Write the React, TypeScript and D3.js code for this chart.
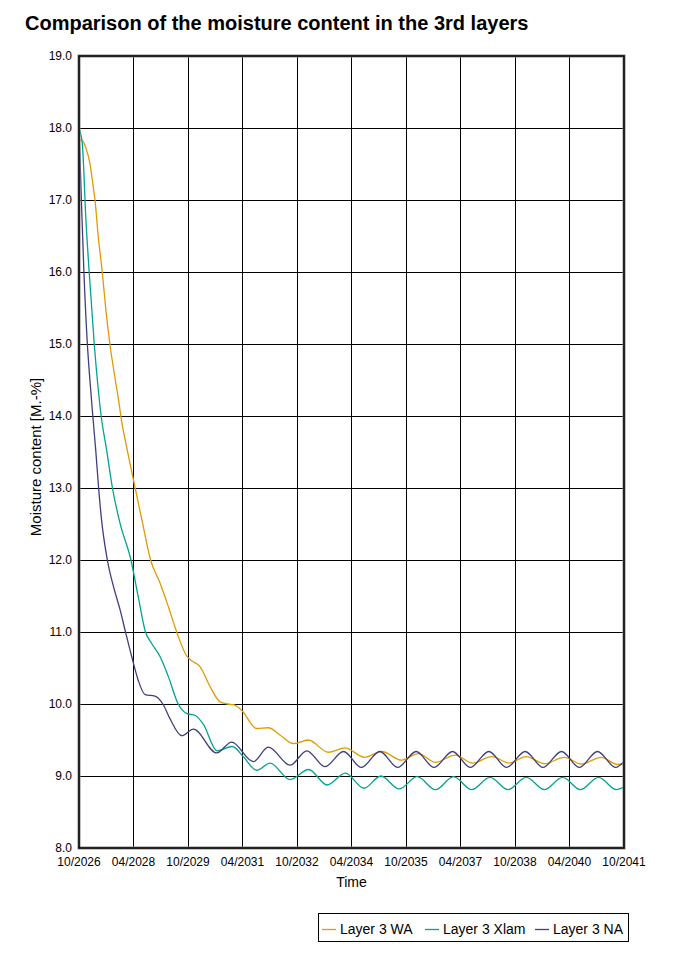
import React from "react";
import * as d3 from "d3";

const TITLE = "Comparison of the moisture content in the 3rd layers";
const X_LABEL = "Time";
const Y_LABEL = "Moisture content [M.-%]";

// x = years since 10/2026
const X_TICK_VALUES = [0, 1.5, 3, 4.5, 6, 7.5, 9, 10.5, 12, 13.5, 15];
const X_TICK_LABELS = ["10/2026", "04/2028", "10/2029", "04/2031", "10/2032", "04/2034", "10/2035", "04/2037", "10/2038", "04/2040", "10/2041"];
const Y_TICKS = [8, 9, 10, 11, 12, 13, 14, 15, 16, 17, 18, 19];

const SERIES_NAMES = ["Layer 3 WA", "Layer 3 Xlam", "Layer 3 NA"];
const SERIES_COLORS = ["#e09b00", "#00a58e", "#3f3f7f"];

const layerWA: [number, number][] = [
  [0, 17.84], [0.1, 17.82], [0.21, 17.69], [0.3, 17.51], [0.39, 17.19], [0.44, 17.0], [0.53, 16.49],
  [0.64, 16.0], [0.74, 15.47], [0.85, 15.0], [1.0, 14.5], [1.09, 14.22], [1.17, 13.94], [1.31, 13.57],
  [1.5, 13.11], [1.73, 12.56], [1.97, 12.0], [2.23, 11.68], [2.46, 11.35], [2.69, 11.0], [2.96, 10.67],
  [3.1, 10.6], [3.33, 10.52], [3.61, 10.24], [3.88, 10.03], [4.1, 10.0], [4.25, 9.99], [4.48, 9.91],
  [4.89, 9.66], [5.21, 9.67], [5.53, 9.57], [5.9, 9.45], [6.31, 9.5], [6.86, 9.33], [7.32, 9.39],
  [7.86, 9.26], [8.33, 9.34], [8.88, 9.22], [9.34, 9.31], [9.81, 9.19], [10.35, 9.29], [10.83, 9.18],
  [11.36, 9.27], [11.84, 9.18], [12.31, 9.27], [12.81, 9.17], [13.36, 9.26], [13.83, 9.165],
  [14.37, 9.26], [14.82, 9.16], [15, 9.17],
];

const layerXlam: [number, number][] = [
  [0, 18.0], [0.03, 17.95], [0.09, 17.79], [0.14, 17.32], [0.165, 17.0], [0.28, 16.0], [0.42, 15.0],
  [0.61, 14.0], [0.76, 13.53], [0.92, 13.0], [1.13, 12.51], [1.43, 12.0], [1.63, 11.49], [1.83, 11.0],
  [2.0, 10.84], [2.23, 10.66], [2.46, 10.38], [2.73, 10.0], [2.96, 9.87], [3.2, 9.84], [3.42, 9.72],
  [3.8, 9.35], [4.22, 9.41], [4.52, 9.27], [4.89, 9.08], [5.26, 9.18], [5.81, 8.95], [6.32, 9.09],
  [6.83, 8.875], [7.33, 9.04], [7.84, 8.83], [8.31, 9.0], [8.81, 8.82], [9.31, 8.99], [9.81, 8.81],
  [10.31, 8.99], [10.81, 8.81], [11.31, 8.98], [11.81, 8.81], [12.31, 8.98], [12.81, 8.81],
  [13.31, 8.98], [13.8, 8.81], [14.3, 8.98], [14.79, 8.81], [15, 8.85],
];

const layerNA: [number, number][] = [
  [0, 17.95], [0.02, 17.7], [0.04, 17.4], [0.065, 17.0], [0.135, 16.0], [0.23, 15.0], [0.3, 14.5],
  [0.38, 14.0], [0.46, 13.53], [0.54, 13.0], [0.62, 12.56], [0.78, 12.0], [0.95, 11.63], [1.13, 11.31],
  [1.28, 11.0], [1.45, 10.66], [1.63, 10.33], [1.82, 10.13], [2.09, 10.11], [2.32, 9.99], [2.5, 9.8],
  [2.83, 9.56], [3.15, 9.65], [3.79, 9.32], [4.2, 9.47], [4.8, 9.2], [5.21, 9.4], [5.81, 9.15],
  [6.27, 9.35], [6.77, 9.13], [7.28, 9.34], [7.77, 9.12], [8.28, 9.34], [8.77, 9.12], [9.28, 9.34],
  [9.77, 9.12], [10.28, 9.34], [10.77, 9.12], [11.28, 9.34], [11.77, 9.12], [12.28, 9.34],
  [12.77, 9.12], [13.28, 9.34], [13.77, 9.12], [14.27, 9.34], [14.77, 9.12], [15, 9.2],
];

const SERIES = [layerWA, layerXlam, layerNA];

const W = 674;
const H = 953;
const M = { left: 79, right: 624, top: 56, bottom: 848 };
const FONT = "'Liberation Sans', Arial, sans-serif";

export default function App() {
  const x = d3.scaleLinear().domain([0, 15]).range([M.left, M.right]);
  const y = d3.scaleLinear().domain([8, 19]).range([M.bottom, M.top]);
  const line = d3
    .line<[number, number]>()
    .x((d) => x(d[0]))
    .y((d) => y(d[1]))
    .curve(d3.curveMonotoneX);

  const legendLineX = [322, 425, 535];
  const legendTextX = [340, 443, 553];

  return (
    <div style={{ position: "absolute", left: 0, top: 0 }}>
      <svg width={W} height={H} style={{ display: "block", background: "#fff" }} fontFamily={FONT}>
        <rect x={0} y={0} width={W} height={H} fill="#fff" />
        <text x={25} y={30} fontSize={20} fontWeight="bold" fill="#000">
          {TITLE}
        </text>

        {/* grid */}
        {Y_TICKS.slice(1, -1).map((v) => (
          <line key={"gy" + v} x1={M.left} x2={M.right} y1={y(v)} y2={y(v)} stroke="#000" strokeWidth={1} shapeRendering="crispEdges" />
        ))}
        {X_TICK_VALUES.slice(1, -1).map((v) => (
          <line key={"gx" + v} x1={x(v)} x2={x(v)} y1={M.top} y2={M.bottom} stroke="#000" strokeWidth={1} shapeRendering="crispEdges" />
        ))}

        {/* series */}
        <defs>
          <clipPath id="plotclip">
            <rect x={M.left} y={M.top} width={M.right - M.left} height={M.bottom - M.top} />
          </clipPath>
        </defs>
        <g clipPath="url(#plotclip)">
          {SERIES.map((s, i) => (
            <path key={i} d={line(s) || ""} fill="none" stroke={SERIES_COLORS[i]} strokeWidth={1.3} />
          ))}
        </g>

        {/* border */}
        <rect x={M.left} y={M.top} width={M.right - M.left} height={M.bottom - M.top} fill="none" stroke="#888" strokeWidth={3} />
        <rect x={M.left} y={M.top} width={M.right - M.left} height={M.bottom - M.top} fill="none" stroke="#000" strokeWidth={1.5} />

        {/* y tick labels */}
        {Y_TICKS.map((v) => (
          <text key={"ty" + v} x={72} y={y(v) + 4} fontSize={12} textAnchor="end" fill="#000">
            {v.toFixed(1)}
          </text>
        ))}
        {/* x tick labels */}
        {X_TICK_VALUES.map((v, i) => (
          <text key={"tx" + v} x={x(v)} y={866} fontSize={12} textAnchor="middle" fill="#000">
            {X_TICK_LABELS[i]}
          </text>
        ))}

        <text x={(M.left + M.right) / 2} y={887} fontSize={14} textAnchor="middle" fill="#000">
          {X_LABEL}
        </text>
        <text transform={`translate(41,457) rotate(-90)`} fontSize={15} textAnchor="middle" fill="#000">
          {Y_LABEL}
        </text>

        {/* legend */}
        <rect x={318.5} y={913.5} width={310} height={28} fill="#fff" stroke="#000" strokeWidth={1} />
        {SERIES_NAMES.map((n, i) => (
          <g key={n}>
            <line x1={legendLineX[i]} x2={legendLineX[i] + 14} y1={929.5} y2={929.5} stroke={SERIES_COLORS[i]} strokeWidth={1.3} />
            <text x={legendTextX[i]} y={934} fontSize={14} fill="#000">
              {n}
            </text>
          </g>
        ))}
      </svg>
    </div>
  );
}
